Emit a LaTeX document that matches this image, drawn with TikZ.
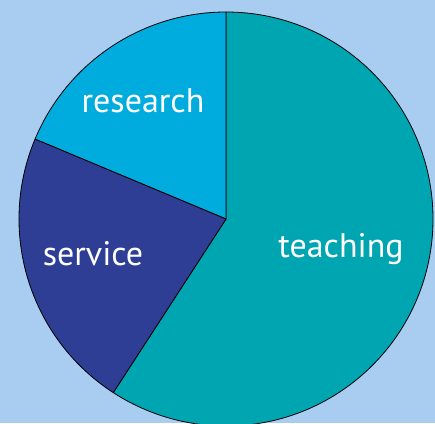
\documentclass[tikz,border=0pt]{standalone}
\usepackage{fontspec}
\setmainfont{PT Sans}
\definecolor{bgblue}{HTML}{A9CDF0}
\definecolor{research}{HTML}{00ACDE}
\definecolor{service}{HTML}{2E3E95}
\definecolor{teaching}{HTML}{00A5B2}
\begin{document}
\begin{tikzpicture}[x=1pt,y=-1pt,
  slice/.style={draw=black,line width=0.8pt,line join=round},
  lbl/.style={text=white,font=\fontsize{34}{40}\selectfont,inner sep=0pt,anchor=base}]
\fill[bgblue] (0,0) rectangle (435,423);
\useasboundingbox (0,0) rectangle (435,423);
\coordinate (c) at (226,219);
\def\R{207}
\filldraw[slice,fill=teaching] (c) -- ++(90:-\R) arc[start angle=-90,end angle=123,radius=\R] -- cycle;
\filldraw[slice,fill=research] (c) -- ++(-90:\R) arc[start angle=-90,end angle=-157.3,radius=\R] -- cycle;
\filldraw[slice,fill=service] (c) -- ++(-157.3:\R) arc[start angle=-157.3,end angle=-237,radius=\R] -- cycle;
\node[lbl] (r) at (143,112) {research};
\node[lbl] (s) at (93,265) {service};
\node[lbl] (t) at (341,257) {teaching};
\end{tikzpicture}
\end{document}
